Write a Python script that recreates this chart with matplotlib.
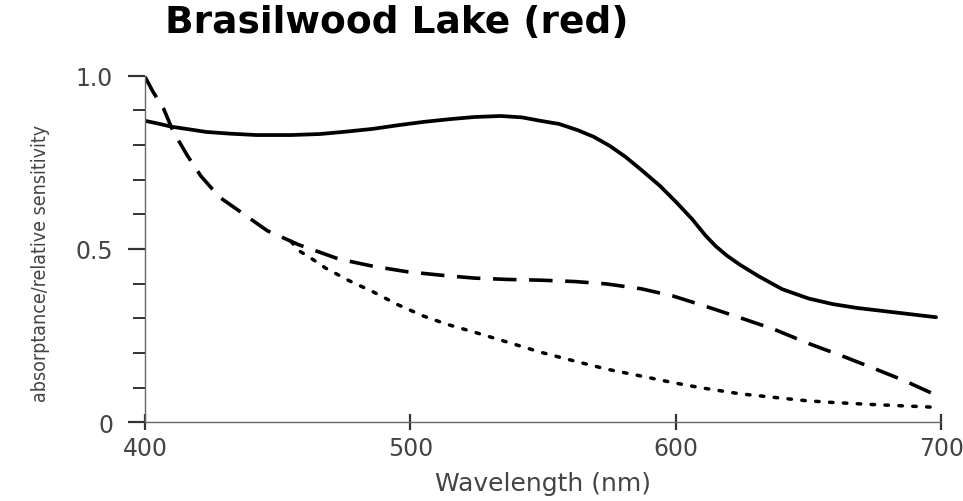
import matplotlib
matplotlib.use("Agg")
from matplotlib import pyplot as plt
from matplotlib.ticker import MultipleLocator

# values (wavelength in nm)
solid_wl = [400, 405, 410, 417, 423, 432, 442, 455, 466, 476, 486, 495, 505, 515, 524, 534, 542, 549,
            556, 563, 569, 575, 581, 587, 594, 600, 606, 611, 615, 619, 624, 631, 640, 650, 659, 668,
            678, 688, 698]
solid_val = [0.870, 0.862, 0.853, 0.845, 0.838, 0.833, 0.829, 0.829, 0.832, 0.839, 0.847, 0.857, 0.867,
             0.875, 0.881, 0.884, 0.880, 0.870, 0.861, 0.843, 0.824, 0.798, 0.766, 0.728, 0.682, 0.636,
             0.587, 0.540, 0.508, 0.482, 0.455, 0.422, 0.384, 0.357, 0.341, 0.330, 0.321, 0.312, 0.303]

dashed_wl = [400, 403, 407, 410.5, 416, 421, 428, 436, 446, 458, 473, 486, 499, 512, 524, 537, 549,
             562, 574, 587, 599, 611, 624, 637, 650, 662, 674, 686, 698]
dashed_val = [0.997, 0.954, 0.905, 0.841, 0.769, 0.711, 0.650, 0.607, 0.553, 0.512, 0.471, 0.450, 0.434,
              0.424, 0.416, 0.412, 0.410, 0.406, 0.399, 0.385, 0.364, 0.335, 0.302, 0.268, 0.227, 0.193,
              0.157, 0.120, 0.078]

dotted_wl = [455, 458, 463, 468, 477, 486, 495, 505, 514, 524, 537, 549, 562, 574, 587, 599, 609, 624,
             634, 649, 659, 674, 686, 698]
dotted_val = [0.522, 0.495, 0.471, 0.445, 0.408, 0.376, 0.340, 0.306, 0.282, 0.260, 0.230, 0.202, 0.176,
              0.153, 0.133, 0.114, 0.100, 0.082, 0.074, 0.062, 0.057, 0.051, 0.047, 0.043]

x_ticks = [400, 500, 600, 700]
y_ticks = [0, 0.5, 1.0]
y_tick_labels = ["0", "0.5", "1.0"]

plt.rcParams["font.family"] = ["DejaVu Sans"]

fig = plt.figure(figsize=(9.63, 5.02), dpi=100)
ax = fig.add_axes([0.1506, 0.157, 0.827, 0.69])

ax.plot(solid_wl, solid_val, color="black", lw=2.7, solid_joinstyle="round", solid_capstyle="round")
ax.plot(dashed_wl, dashed_val, color="black", lw=2.6, linestyle=(0, (6.5, 3.5)))
ax.plot(dotted_wl, dotted_val, color="black", lw=2.5, linestyle=(0, (1, 3)), dash_capstyle="round")

ax.set_xlim(400, 700)
ax.set_ylim(0, 1.0)
ax.set_xticks(x_ticks)
ax.set_yticks(y_ticks)
ax.set_yticklabels(y_tick_labels)
ax.yaxis.set_minor_locator(MultipleLocator(0.1))

for side in ["top", "right"]:
    ax.spines[side].set_visible(False)
for side in ["left", "bottom"]:
    ax.spines[side].set_color("#666666")
    ax.spines[side].set_linewidth(1.0)

ax.tick_params(axis="both", which="major", labelsize=17, labelcolor="#444444", color="#333333", width=1.6)
ax.tick_params(axis="y", which="major", direction="out", length=12, pad=11)
ax.tick_params(axis="y", which="minor", direction="out", length=9, width=1.4, color="#333333")
ax.tick_params(axis="x", which="major", direction="inout", length=12, pad=4)

ax.set_xlabel("Wavelength (nm)", fontsize=18, color="#444444", labelpad=8)
ax.set_ylabel("absorptance/relative sensitivity", fontsize=14, color="#444444",
              family=["Liberation Sans Narrow", "DejaVu Sans"], fontstretch="condensed")
ax.yaxis.set_label_coords(-0.119, 0.46)

fig.text(0.171, 0.954, "Brasilwood Lake (red)", fontsize=27, fontweight="heavy",
         ha="left", va="center", color="black")

plt.savefig("out.png", dpi=100)
